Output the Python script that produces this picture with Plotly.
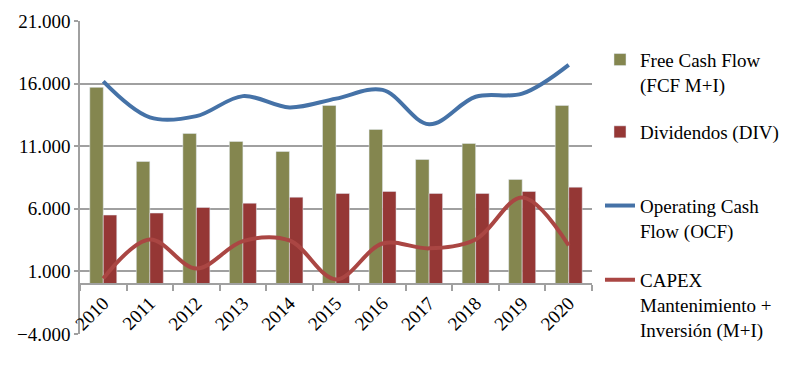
import plotly.graph_objects as go

years = ['2010', '2011', '2012', '2013', '2014', '2015', '2016', '2017', '2018', '2019', '2020']
fcf = [15700, 9780, 12020, 11380, 10580, 14260, 12340, 9940, 11220, 8350, 14260]
div = [5500, 5660, 6110, 6450, 6930, 7230, 7390, 7230, 7230, 7390, 7730]
ocf = [16170, 13300, 13400, 15000, 14100, 14800, 15500, 12750, 14950, 15200, 17500]
capex = [440, 3550, 1240, 3420, 3470, 360, 3230, 2840, 3550, 6900, 3070]

# leading blank lines keep each legend symbol level with the first text line
B = '\u00a0<br>'
names = [B + 'Free Cash Flow<br>(FCF M+I)', 'Dividendos (DIV)',
         B + 'Operating Cash<br>Flow (OCF)', B + B + 'CAPEX<br>Mantenimiento +<br>Inversión (M+I)']

FONT = 'Liberation Serif'
GRID = '#A0A0A0'

fig = go.Figure()
fig.add_trace(go.Bar(x=years, y=fcf, name=names[0], marker_color='#84864F',
                     legend='legend', showlegend=True))
fig.add_trace(go.Bar(x=years, y=div, name=names[1], marker_color='#953735',
                     legend='legend2', showlegend=True))
fig.add_trace(go.Scatter(x=years, y=ocf, name=names[2], mode='lines',
                         line=dict(color='#4572A7', width=4, shape='spline', smoothing=1),
                         legend='legend3', showlegend=True))
fig.add_trace(go.Scatter(x=years, y=capex, name=names[3], mode='lines',
                         line=dict(color='#AA4643', width=4, shape='spline', smoothing=1),
                         legend='legend4', showlegend=True))

lx = 1.0156
leg_common = dict(x=lx, xanchor='left', yanchor='middle', bgcolor='rgba(0,0,0,0)',
                  font=dict(family=FONT, size=19, color='#000'))

# page body has an 8px default margin, so the figure is shifted 8px right/down
fig.update_layout(
    width=796, height=374,
    margin=dict(l=72, r=212, t=13, b=48, autoexpand=False),
    paper_bgcolor='white', plot_bgcolor='white',
    font=dict(family=FONT, size=19, color='#000'),
    separators=',.',
    showlegend=True,
    barmode='group', bargap=0.42, bargroupgap=0,
    legend=dict(y=0.8754, **leg_common),
    legend2=dict(y=0.6454, **leg_common),
    legend3=dict(y=0.409, **leg_common),
    legend4=dict(y=0.1725, **leg_common),
    xaxis=dict(type='category', anchor='free', position=0.16,
               showline=True, linecolor=GRID, linewidth=1.5,
               ticks='outside', ticklen=6, tickcolor=GRID, tickwidth=1.5,
               tickson='boundaries', tickangle=-45, showgrid=False,
               tickfont=dict(family=FONT, size=19, color='#000')),
    yaxis=dict(range=[-4000, 21000], tick0=-4000, dtick=5000, tickformat=',.0f',
               showgrid=True, gridcolor=GRID, gridwidth=1.5, zeroline=False,
               showline=True, linecolor=GRID, linewidth=1.5,
               ticks='outside', ticklen=4, tickcolor=GRID, tickwidth=1.5,
               tickfont=dict(family=FONT, size=19, color='#000')),
)

fig.write_html('out.html')
